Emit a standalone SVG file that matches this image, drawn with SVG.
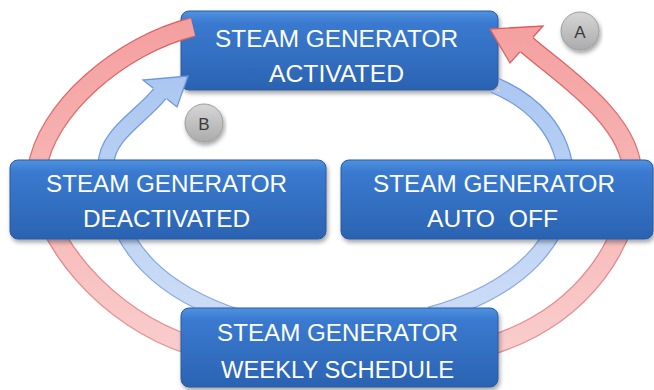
<svg xmlns="http://www.w3.org/2000/svg" width="654" height="390" viewBox="0 0 654 390">
<defs>
  <linearGradient id="boxG" x1="0" y1="0" x2="0" y2="1">
    <stop offset="0" stop-color="#4f92e0"/>
    <stop offset="0.15" stop-color="#3a7ad0"/>
    <stop offset="1" stop-color="#2b63b2"/>
  </linearGradient>
  <linearGradient id="badgeG" x1="0" y1="0" x2="0" y2="1">
    <stop offset="0" stop-color="#d6d6d6"/>
    <stop offset="1" stop-color="#ababab"/>
  </linearGradient>
  <linearGradient id="redF" gradientUnits="userSpaceOnUse" x1="0" y1="0" x2="0" y2="390">
    <stop offset="0" stop-color="#f49c9c"/>
    <stop offset="1" stop-color="#fad2d2"/>
  </linearGradient>
  <linearGradient id="redS" gradientUnits="userSpaceOnUse" x1="0" y1="0" x2="0" y2="390">
    <stop offset="0" stop-color="#d9585a"/>
    <stop offset="1" stop-color="#e79a9a"/>
  </linearGradient>
  <linearGradient id="bluF" gradientUnits="userSpaceOnUse" x1="0" y1="0" x2="0" y2="390">
    <stop offset="0" stop-color="#a0c0f0"/>
    <stop offset="1" stop-color="#d6e3f7"/>
  </linearGradient>
  <linearGradient id="bluS" gradientUnits="userSpaceOnUse" x1="0" y1="0" x2="0" y2="390">
    <stop offset="0" stop-color="#5f8fd8"/>
    <stop offset="1" stop-color="#9ab3e0"/>
  </linearGradient>
  <filter id="sh" x="-10%" y="-20%" width="120%" height="150%">
    <feDropShadow dx="1.5" dy="3" stdDeviation="2" flood-color="#000" flood-opacity="0.35"/>
  </filter>
  <clipPath id="clipTop">
    <rect x="0" y="91" width="654" height="299"/>
    <rect x="499" y="0" width="155" height="91"/>
  </clipPath>
  <style>
    .box { fill: url(#boxG); stroke: #2a5a9e; stroke-width: 1; filter: url(#sh); }
    .lbl { font-family: "Liberation Sans", Arial, sans-serif; font-size: 23.5px; fill: #ffffff; text-anchor: middle; }
    .redO { fill: none; stroke: url(#redS); stroke-width: 20; }
    .redI { fill: none; stroke: url(#redF); stroke-width: 17.5; }
    .bluO { fill: none; stroke: url(#bluS); stroke-width: 17; }
    .bluI { fill: none; stroke: url(#bluF); stroke-width: 14.5; }
    .redH { fill: url(#redF); }
    .redHO { fill: none; stroke: url(#redS); stroke-width: 1.3; stroke-linejoin: miter; }
    .bluH { fill: url(#bluF); }
    .bluHO { fill: none; stroke: url(#bluS); stroke-width: 1.3; stroke-linejoin: miter; }
    .badge { fill: url(#badgeG); stroke: #9c9c9c; stroke-width: 1; filter: url(#sh); }
    .blet { font-family: "Liberation Sans", Arial, sans-serif; font-size: 17px; fill: #3a3a3a; text-anchor: middle; }
  </style>
</defs>

<g id="node-activated">
  <rect class="box" x="181" y="11" width="317" height="79" rx="8"/>
  <text class="lbl" x="336.5" y="47" textLength="243" lengthAdjust="spacingAndGlyphs">STEAM GENERATOR</text>
  <text class="lbl" x="336.5" y="82" textLength="135" lengthAdjust="spacingAndGlyphs">ACTIVATED</text>
</g>

<g id="connectors">
  <!-- A: red outer arc right, from weekly schedule to activated -->
  <path class="redO" d="M492,345 C585,315 632,240 632,175 C634,120 556,71 526.5,44.5"/>
  <path class="redI" d="M492,345 C585,315 632,240 632,175 C634,120 556,71 526.5,44.5"/>
  <polygon class="redH" points="543,26 490,29 510,63"/>
  <path class="redHO" d="M533.2,37 L543,26 L490,29 L510,63 L519.8,52"/>
  <!-- red outer arc left -->
  <path class="redO" d="M193,27 C120,45 45,110 37,170 C37,240 110,320 190,345"/>
  <path class="redI" d="M193,27 C120,45 45,110 37,170 C37,240 110,320 190,345"/>
  <!-- B: blue inner arc left -->
  <path class="bluO" d="M240,318 C170,295 112,255 106,165 C106,135 141.3,117 160,93.5"/>
  <path class="bluI" d="M240,318 C170,295 112,255 106,165 C106,135 141.3,117 160,93.5"/>
  <polygon class="bluH" points="143,80 188,76 177,107"/>
  <path class="bluHO" d="M153.3,88.2 L143,80 L188,76 L177,107 L166.7,98.8"/>
  <!-- blue inner arc right -->
  <g clip-path="url(#clipTop)">
    <path class="bluO" d="M494,85 C530,100 565,130 566,180 C566,240 520,290 430,315"/>
    <path class="bluI" d="M494,85 C530,100 565,130 566,180 C566,240 520,290 430,315"/>
  </g>
</g>

<g id="node-deactivated">
  <rect class="box" x="10" y="160" width="316" height="79" rx="8"/>
  <text class="lbl" x="166.5" y="192" textLength="241" lengthAdjust="spacingAndGlyphs">STEAM GENERATOR</text>
  <text class="lbl" x="166.5" y="227" textLength="167" lengthAdjust="spacingAndGlyphs">DEACTIVATED</text>
</g>

<g id="node-auto-off">
  <rect class="box" x="341" y="160" width="312" height="79" rx="8"/>
  <text class="lbl" x="494" y="192" textLength="242" lengthAdjust="spacingAndGlyphs">STEAM GENERATOR</text>
  <text class="lbl" x="492.5" y="227" textLength="131" lengthAdjust="spacingAndGlyphs" xml:space="preserve">AUTO  OFF</text>
</g>

<g id="node-weekly">
  <rect class="box" x="181" y="308" width="317" height="79" rx="8"/>
  <text class="lbl" x="337.5" y="341" textLength="241" lengthAdjust="spacingAndGlyphs">STEAM GENERATOR</text>
  <text class="lbl" x="337.5" y="378" textLength="233" lengthAdjust="spacingAndGlyphs">WEEKLY SCHEDULE</text>
</g>

<g id="badge-a">
  <circle class="badge" cx="580" cy="31" r="19"/>
  <text class="blet" x="580" y="37.5">A</text>
</g>

<g id="badge-b">
  <circle class="badge" cx="204" cy="123" r="19"/>
  <text class="blet" x="204" y="129.5">B</text>
</g>
</svg>
